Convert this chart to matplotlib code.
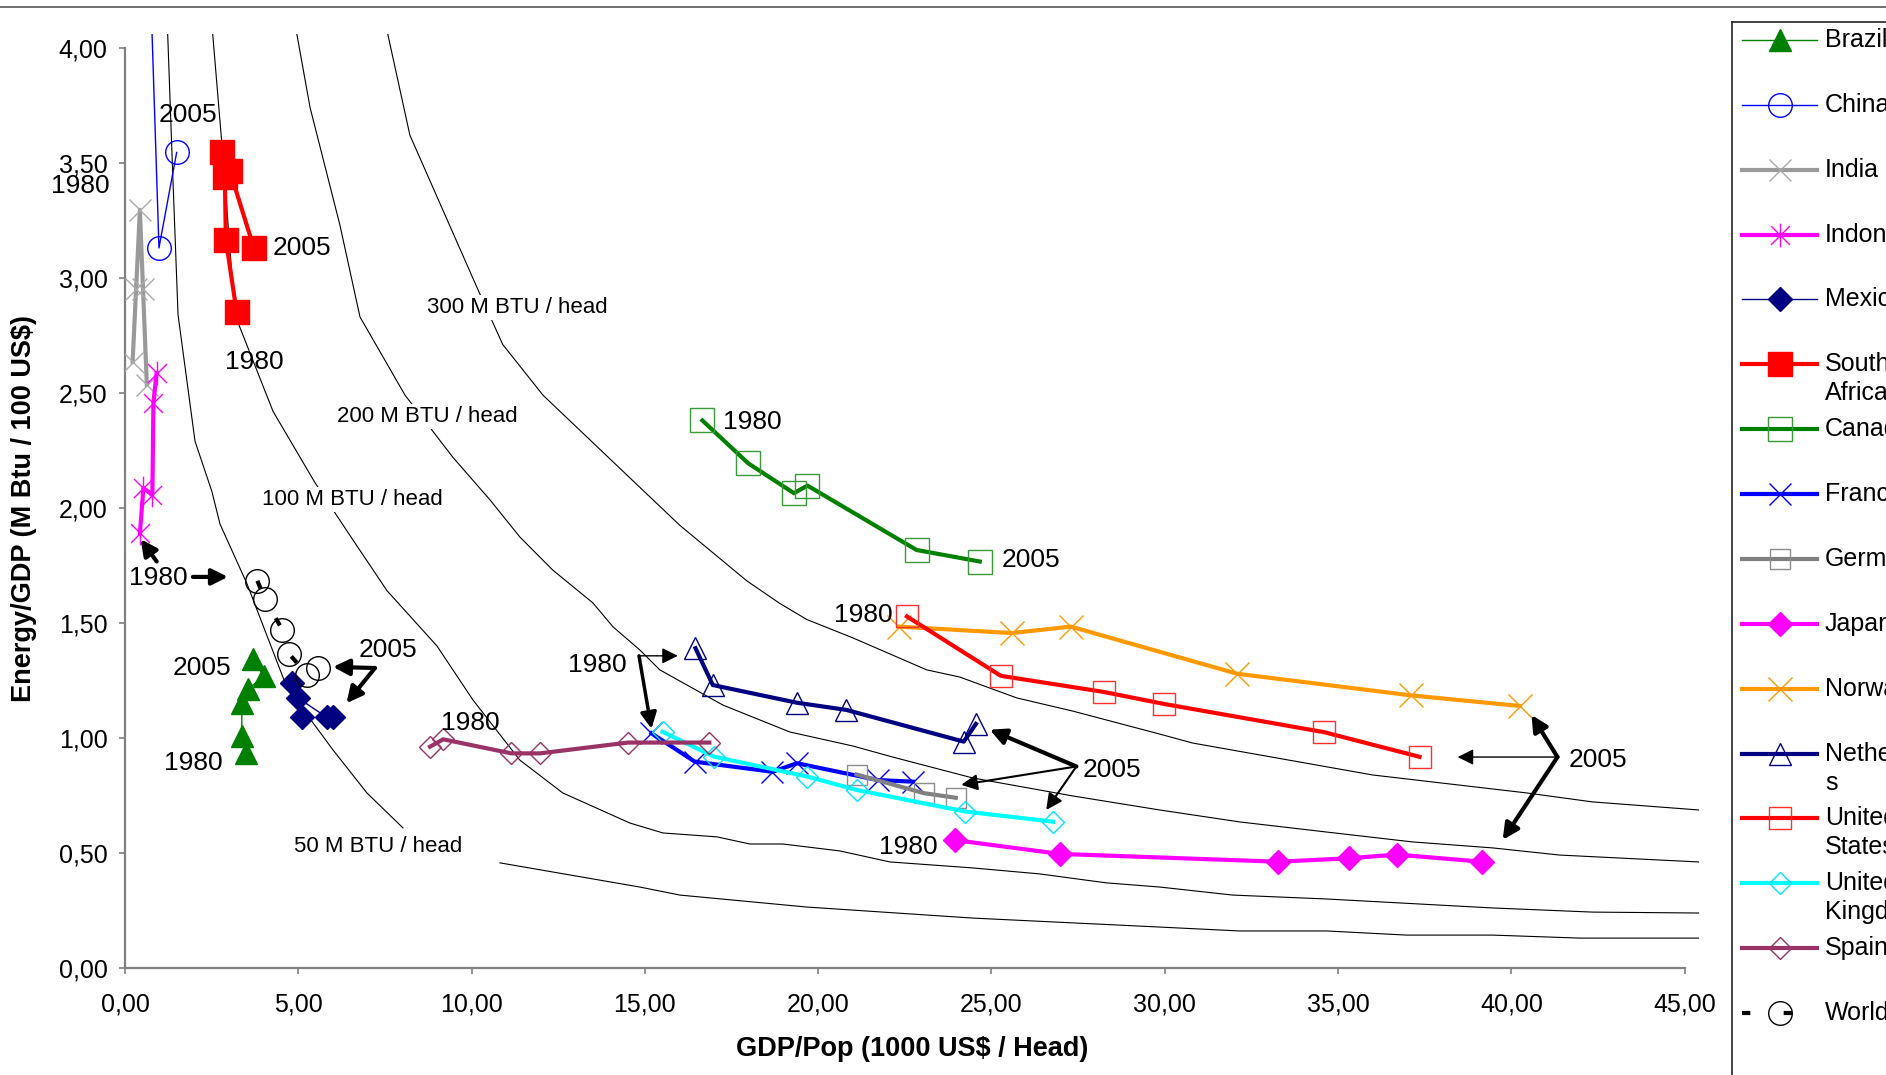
import numpy as np
import matplotlib
matplotlib.use("Agg")
import matplotlib.pyplot as plt
from matplotlib.path import Path
from matplotlib.lines import Line2D
from matplotlib import font_manager

# ---------------- data (GDP/Pop in 1000 US$/head, Energy/GDP in MBtu/100 US$) -------------
brazil_x = [3.48, 3.37, 3.37, 3.56, 4.00, 3.68]
brazil_y = [0.933, 1.01, 1.151, 1.212, 1.27, 1.342]
china_x = [0.45, 0.60, 0.73, 0.98, 1.49]
china_y = [6.0, 5.0, 4.3, 3.13, 3.545]
india_x = [0.22, 0.32, 0.43, 0.52, 0.63]
india_y = [2.636, 2.95, 3.296, 2.95, 2.535]
indonesia_x = [0.43, 0.53, 0.79, 0.82, 0.91]
indonesia_y = [1.89, 2.086, 2.057, 2.455, 2.586]
mexico_x = [5.10, 4.81, 5.00, 5.82, 6.01]
mexico_y = [1.093, 1.238, 1.173, 1.09, 1.093]
southafrica_x = [3.22, 2.91, 2.88, 2.81, 3.03, 3.72]
southafrica_y = [2.853, 3.165, 3.44, 3.545, 3.463, 3.129]
canada_x = [16.66, 17.98, 19.30, 19.69, 22.84, 24.66]
canada_y = [2.380, 2.194, 2.064, 2.097, 1.817, 1.767]
france_x = [15.19, 16.44, 18.68, 19.39, 21.72, 22.73]
france_y = [1.020, 0.897, 0.853, 0.890, 0.817, 0.810]
germany_x = [21.11, 23.05, 23.97]
germany_y = [0.841, 0.760, 0.740]
japan_x = [23.94, 26.97, 33.27, 35.31, 36.70, 39.15]
japan_y = [0.556, 0.496, 0.462, 0.477, 0.493, 0.462]
norway_x = [22.32, 25.59, 27.29, 32.09, 37.11, 40.24]
norway_y = [1.484, 1.456, 1.484, 1.279, 1.185, 1.139]
netherlands_x = [16.46, 16.96, 19.39, 20.81, 24.20, 24.55]
netherlands_y = [1.390, 1.230, 1.153, 1.122, 0.984, 1.061]
us_x = [22.56, 25.27, 28.24, 29.97, 34.60, 37.35]
us_y = [1.528, 1.270, 1.200, 1.148, 1.025, 0.918]
uk_x = [15.51, 16.99, 19.69, 21.11, 24.25, 26.78]
uk_y = [1.027, 0.919, 0.832, 0.774, 0.680, 0.636]
spain_x = [8.80, 9.18, 11.15, 11.97, 14.52, 16.86]
spain_y = [0.962, 0.994, 0.933, 0.933, 0.980, 0.980]
world_x = [3.82, 4.04, 4.54, 4.74, 5.26, 5.56]
world_y = [1.683, 1.603, 1.470, 1.365, 1.274, 1.306]

# iso-lines of energy per head (None = break in the drawn line)
iso50_x = [1.21, 1.36, 1.53, 2.02, 2.51, 2.74, 3.52, 4.67, 6.00, 6.98, 8.02, None, 10.82, 14.85,
           16.01, 19.67, 24.46, 29.85, 32.16, 34.67, 36.98, 39.46, 41.97, 45.4]
iso50_y = [4.15, 3.52, 2.84, 2.29, 2.07, 1.93, 1.67, 1.22, 0.948, 0.761, 0.609, None, 0.457, 0.352,
           0.317, 0.265, 0.217, 0.178, 0.161, 0.161, 0.143, 0.143, 0.130, 0.130]
iso100_x = [2.48, 2.83, 3.17, 4.27, 5.48, 6.58, 7.56, 9.00, 10.04, 11.39, 12.63, 14.57, 15.52,
            17.08, 18.03, 18.98, 20.62, 22.07, 24.46, 26.39, 28.32, 29.85, 31.96, 34.67,
            39.46, 42.34, 45.4]
iso100_y = [4.15, 3.52, 2.84, 2.42, 2.11, 1.86, 1.64, 1.40, 1.165, 0.904, 0.761, 0.630, 0.587,
            0.570, 0.539, 0.539, 0.509, 0.461, 0.435, 0.409, 0.370, 0.352, 0.317, 0.300,
            0.261, 0.243, 0.239]
iso200_x = [4.85, 5.34, 6.20, 6.78, 8.08, 9.46, 10.53, 11.39, 12.34, 13.50, 14.08, 14.85, 15.43,
            17.25, 19.18, 21.00, 22.15, 24.46, 27.34, 29.85, 32.16, 34.67, 37.15, 39.46,
            41.39, 45.4]
iso200_y = [4.15, 3.74, 3.23, 2.83, 2.49, 2.22, 2.035, 1.874, 1.730, 1.587, 1.483, 1.383, 1.296,
            1.143, 1.026, 0.965, 0.917, 0.826, 0.748, 0.687, 0.635, 0.591, 0.548, 0.522,
            0.491, 0.461]
iso300_x = [7.45, 8.22, 10.15, 10.90, 12.06, 14.85, 16.01, 17.94, 18.89, 19.67, 21.00, 23.13,
            24.08, 25.73, 27.34, 29.85, 30.80, 36.00, 40.44, 42.34, 45.4]
iso300_y = [4.15, 3.62, 2.96, 2.71, 2.49, 2.09, 1.924, 1.683, 1.585, 1.515, 1.435, 1.296,
            1.265, 1.174, 1.117, 1.017, 0.978, 0.839, 0.761, 0.722, 0.687]

x_ticks = [0, 5, 10, 15, 20, 25, 30, 35, 40, 45]
y_ticks = [0, 0.5, 1.0, 1.5, 2.0, 2.5, 3.0, 3.5, 4.0]

# ---------------- fonts -------------
names = {f.name for f in font_manager.fontManager.ttflist}
FONT = "Liberation Sans" if "Liberation Sans" in names else "DejaVu Sans"
plt.rcParams["font.family"] = [FONT, "DejaVu Sans"]

asterisk = Path([(-1, -1), (1, 1), (-1, 1), (1, -1), (0, -1.25), (0, 1.25)],
                [Path.MOVETO, Path.LINETO, Path.MOVETO, Path.LINETO, Path.MOVETO, Path.LINETO])

series = [
    ("Brazil", brazil_x, brazil_y, dict(color="#008000", lw=1, marker="^", ms=16, mfc="#008000", mec="#008000")),
    ("China", china_x, china_y, dict(color="#0000FF", lw=1, marker="o", ms=17, mfc="none", mec="#0000FF", mew=1)),
    ("India", india_x, india_y, dict(color="#999999", lw=3, marker="x", ms=16, mec="#AAAAAA", mew=1)),
    ("Indonesia", indonesia_x, indonesia_y, dict(color="#FF00FF", lw=3, marker=asterisk, ms=17, mec="#FF00FF", mew=1)),
    ("Mexico", mexico_x, mexico_y, dict(color="#000080", lw=1, marker="D", ms=12.5, mfc="#000080", mec="#000080")),
    ("South\nAfrica", southafrica_x, southafrica_y, dict(color="#FF0000", lw=3, marker="s", ms=17, mfc="#FF0000", mec="#FF0000")),
    ("Canada", canada_x, canada_y, dict(color="#008000", lw=3, marker="s", ms=17, mfc="none", mec="#3A9A3A", mew=1)),
    ("France", france_x, france_y, dict(color="#0000FF", lw=3, marker="x", ms=16, mec="#0000FF", mew=1)),
    ("Germany", germany_x, germany_y, dict(color="#808080", lw=3, marker="s", ms=15, mfc="none", mec="#8C8C8C", mew=1)),
    ("Japan", japan_x, japan_y, dict(color="#FF00FF", lw=3, marker="D", ms=12, mfc="#FF00FF", mec="#FF00FF")),
    ("Norway", norway_x, norway_y, dict(color="#FF9900", lw=3, marker="x", ms=17, mec="#FF9900", mew=1)),
    ("Netherland\ns", netherlands_x, netherlands_y, dict(color="#000080", lw=3, marker="^", ms=16, mfc="none", mec="#000080", mew=1)),
    ("United\nStates", us_x, us_y, dict(color="#FF0000", lw=3, marker="s", ms=16, mfc="none", mec="#FF3030", mew=1)),
    ("United\nKingdom", uk_x, uk_y, dict(color="#00FFFF", lw=3, marker="D", ms=11.5, mfc="none", mec="#00E5FF", mew=1)),
    ("Spain", spain_x, spain_y, dict(color="#993366", lw=3, marker="D", ms=11.5, mfc="none", mec="#993366", mew=1)),
    ("World", world_x, world_y, dict(color="#000000", lw=3, ls=(0, (2, 8)), marker="o", ms=17, mfc="none", mec="#000000", mew=1)),
]

W, H = 1886, 1075
fig = plt.figure(figsize=(W / 100, H / 100), dpi=100)
ax = fig.add_axes([125 / W, 1 - 968 / H, (1702 - 125) / W, (968 - 34) / H])
ax.set_xlim(0, 45.5)
ax.set_ylim(0, 4.06)

# iso-lines
for xs, ys in [(iso50_x, iso50_y), (iso100_x, iso100_y), (iso200_x, iso200_y), (iso300_x, iso300_y)]:
    xs = np.array([np.nan if v is None else v for v in xs], dtype=float)
    ys = np.array([np.nan if v is None else v for v in ys], dtype=float)
    ax.plot(xs, ys, color="black", lw=0.8, zorder=1, clip_on=True)

for lab, x, y in [("300 M BTU / head", 11.33, 2.87), ("200 M BTU / head", 8.72, 2.396),
                  ("100 M BTU / head", 6.55, 2.035), ("50 M BTU / head", 7.30, 0.526)]:
    ax.text(x, y, lab, fontsize=16, ha="center", va="center", zorder=2,
            bbox=dict(facecolor="white", edgecolor="none", pad=1.5))

for i, (name, xs, ys, st) in enumerate(series):
    ax.plot(xs, ys, zorder=5 + i, **st)

# year labels
year_labels = [
    ("2005", 1.82, 3.71), ("1980", -1.30, 3.40), ("2005", 5.10, 3.13), ("1980", 3.72, 2.635),
    ("1980", 0.95, 1.696), ("2005", 7.59, 1.383), ("2005", 2.22, 1.304), ("1980", 1.96, 0.891),
    ("1980", 9.95, 1.065), ("1980", 13.64, 1.317), ("1980", 18.10, 2.375), ("2005", 26.13, 1.774),
    ("1980", 21.29, 1.535), ("1980", 22.61, 0.526), ("2005", 28.47, 0.861), ("2005", 42.49, 0.904),
]
for t, x, y in year_labels:
    ax.text(x, y, t, fontsize=19, ha="center", va="center", zorder=30, clip_on=False)

# arrows: (tail, head, linewidth)
arrows = [
    ((0.914, 1.767), (0.452, 1.864), 3),
    ((1.96, 1.70), (2.97, 1.70), 3),
    ((7.21, 1.304), (6.00, 1.309), 3),
    ((7.21, 1.304), (6.39, 1.151), 3),
    ((14.83, 1.357), (15.95, 1.357), 1),
    ((14.83, 1.357), (15.19, 1.04), 2.5),
    ((27.45, 0.876), (24.95, 1.036), 3),
    ((27.45, 0.876), (24.13, 0.796), 1.5),
    ((27.45, 0.876), (26.58, 0.687), 1.5),
    ((41.33, 0.917), (40.58, 1.10), 3),
    ((41.33, 0.917), (38.45, 0.917), 1),
    ((41.33, 0.917), (39.75, 0.557), 3),
]
for tail, head, lw in arrows:
    ax.annotate("", xy=head, xytext=tail, zorder=31,
                arrowprops=dict(arrowstyle="-|>", color="black", lw=lw, mutation_scale=24,
                                shrinkA=0, shrinkB=0))

# axes styling
for s in ["top", "right"]:
    ax.spines[s].set_visible(False)
ax.spines["left"].set_bounds(0, 4)
ax.spines["bottom"].set_bounds(0, 45)
for s in ["left", "bottom"]:
    ax.spines[s].set_color("#808080")
    ax.spines[s].set_linewidth(1.6)
ax.set_xticks(x_ticks)
ax.set_xticklabels([f"{v:.2f}".replace(".", ",") for v in x_ticks])
ax.set_yticks(y_ticks)
ax.set_yticklabels([f"{v:.2f}".replace(".", ",") for v in y_ticks])
ax.tick_params(axis="both", direction="out", length=4.5, width=1.2, color="#808080", labelsize=18)
ax.tick_params(axis="x", pad=13)
ax.tick_params(axis="y", pad=8)

fig.text(24 / W, 1 - 508 / H, "Energy/GDP (M Btu / 100 US\\$)", rotation=90, fontsize=19.5,
         fontweight="bold", ha="center", va="center")
fig.text(912 / W, 1 - 1049 / H, "GDP/Pop (1000 US\\$ / Head)", fontsize=19.5,
         fontweight="bold", ha="center", va="center")

# top rule of the figure
fig.add_artist(Line2D([0, 1], [1 - 7 / H, 1 - 7 / H], transform=fig.transFigure, color="#555555", lw=1.2))

# legend box (extends beyond the right/bottom edge of the figure, as in the original)
lx0, ltop = 1732, 22
lw_frac = 0.2
axl = fig.add_axes([lx0 / W, -0.05, lw_frac, 1 - ltop / H + 0.05])
axl.set_xlim(lx0, lx0 + lw_frac * W)
axl.set_ylim(H + 0.05 * H, ltop)
axl.set_xticks([])
axl.set_yticks([])
for s in ["right", "bottom"]:
    axl.spines[s].set_visible(False)
for s in ["left", "top"]:
    axl.spines[s].set_color("#222222")
    axl.spines[s].set_linewidth(1.2)
row0, step = 40, (1013 - 40) / 15
for i, (name, xs, ys, st) in enumerate(series):
    yy = row0 + i * step
    axl.plot([1742, 1779.5, 1817], [yy, yy, yy], markevery=[1], **st)
    for k, line in enumerate(name.split("\n")):
        axl.text(1825, yy + 29 * k, line, fontsize=18, ha="left", va="center")

fig.savefig("out.png", dpi=100)
